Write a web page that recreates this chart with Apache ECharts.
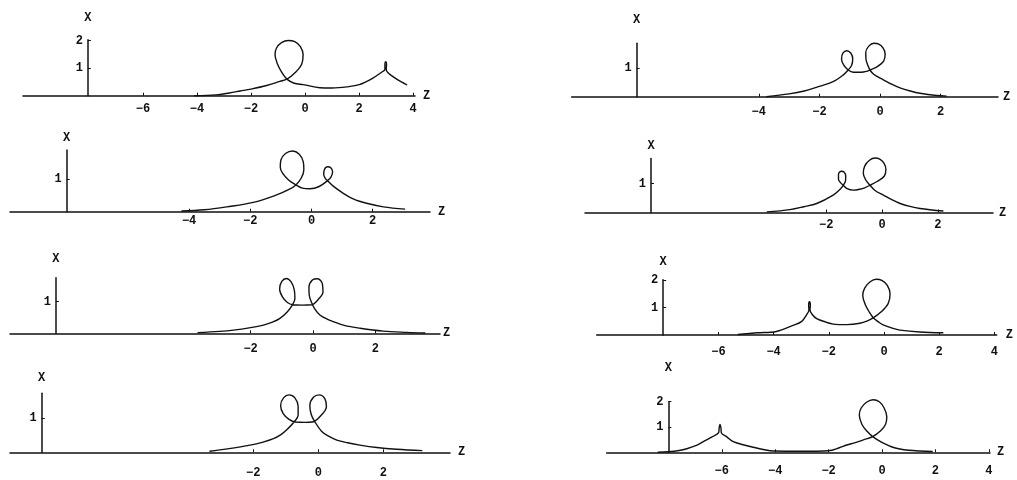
<!DOCTYPE html>
<html>
<head>
<meta charset="utf-8">
<script src="https://cdn.jsdelivr.net/npm/echarts@6/dist/echarts.min.js"></script>
<style>
  html, body { margin: 0; padding: 0; background: #fff; }
  #chart { width: 1017px; height: 480px; }
</style>
</head>
<body>
<div id="chart"></div>
<script>
// tick labels of each panel
const zTicksWide = [-6, -4, -2, 0, 2, 4];
const zTicksMid = [-4, -2, 0, 2];
const zTicksNarrow = [-2, 0, 2];
const xTicksOne = [1];
const xTicksTwo = [1, 2];

// curves, [z, x]
const curve1 = [[-4.1, 0.0], [-3.3, 0.03], [-2.8, 0.1], [-2.4, 0.17], [-2.0, 0.24], [-1.42, 0.37], [-0.93, 0.52], [-0.67, 0.6],
  [-0.35, 0.85], [-0.12, 1.15], [-0.07, 1.48], [-0.17, 1.78], [-0.38, 1.96], [-0.62, 2.0], [-0.87, 1.92],
  [-1.06, 1.72], [-1.11, 1.48], [-1.02, 1.15], [-0.85, 0.83], [-0.67, 0.6], [-0.4, 0.45], [-0.06, 0.4],
  [0.55, 0.29], [1.0, 0.28], [1.55, 0.32], [2.01, 0.4], [2.5, 0.63], [2.85, 0.86], [2.96, 0.95], [2.96, 1.15],
  [2.99, 1.23], [3.02, 1.15], [3.01, 0.95], [3.27, 0.68], [3.78, 0.39]];

const curve2 = [[-3.75, 0.0], [-3.0, 0.1], [-2.5, 0.2], [-2.1, 0.33], [-1.55, 0.53], [-1.22, 0.76], [-1.05, 0.94],
  [-0.94, 1.1], [-0.9, 1.33], [-0.96, 1.53], [-1.1, 1.62], [-1.22, 1.54], [-1.27, 1.33], [-1.2, 1.12], [-1.05, 0.94],
  [-0.88, 0.86], [-0.62, 0.86], [-0.45, 0.89], [-0.33, 0.94], [-0.1, 1.05], [0.12, 1.25], [0.17, 1.5], [0.1, 1.72],
  [-0.04, 1.85], [-0.2, 1.88], [-0.37, 1.78], [-0.47, 1.56], [-0.46, 1.3], [-0.4, 1.1], [-0.33, 0.94], [-0.2, 0.78],
  [0.1, 0.6], [0.4, 0.43], [0.66, 0.31], [1.0, 0.2], [1.32, 0.12], [1.87, 0.04], [2.2, 0.02]];

const curve3 = [[-4.25, 0.02], [-3.5, 0.06], [-2.77, 0.15], [-1.9, 0.29], [-1.14, 0.52], [-0.75, 0.68], [-0.51, 0.83],
  [-0.33, 1.05], [-0.25, 1.3], [-0.27, 1.55], [-0.4, 1.78], [-0.62, 1.88], [-0.85, 1.8], [-1.0, 1.6], [-1.02, 1.38],
  [-0.95, 1.2], [-0.75, 0.98], [-0.51, 0.83], [-0.3, 0.73], [-0.05, 0.71], [0.25, 0.78], [0.52, 0.96], [0.64, 1.08],
  [0.69, 1.24], [0.63, 1.36], [0.53, 1.39], [0.42, 1.3], [0.4, 1.15], [0.45, 1.03], [0.52, 0.96], [0.7, 0.8],
  [1.04, 0.57], [1.4, 0.38], [1.8, 0.26], [2.35, 0.15], [3.06, 0.08]];

const curve4 = [[-4.13, 0.02], [-3.3, 0.1], [-2.8, 0.2], [-2.34, 0.31], [-1.75, 0.6], [-1.5, 0.8], [-1.39, 0.94],
  [-1.31, 1.08], [-1.3, 1.25], [-1.36, 1.4], [-1.46, 1.42], [-1.56, 1.32], [-1.56, 1.15], [-1.48, 1.02], [-1.39, 0.94],
  [-1.25, 0.82], [-1.03, 0.77], [-0.8, 0.8], [-0.6, 0.86], [-0.43, 0.94], [-0.18, 1.07], [0.08, 1.25], [0.14, 1.48],
  [0.07, 1.7], [-0.08, 1.84], [-0.25, 1.88], [-0.45, 1.8], [-0.62, 1.6], [-0.67, 1.35], [-0.58, 1.12], [-0.43, 0.94],
  [-0.25, 0.76], [0.05, 0.6], [0.35, 0.44], [0.65, 0.31], [1.0, 0.21], [1.36, 0.14], [2.2, 0.05]];

const curve5 = [[-3.7, 0.02], [-3.0, 0.06], [-2.55, 0.1], [-2.0, 0.18], [-1.59, 0.26], [-1.3, 0.35], [-1.06, 0.47],
  [-0.82, 0.68], [-0.65, 0.91], [-0.58, 1.1], [-0.6, 1.37], [-0.7, 1.62], [-0.85, 1.73], [-1.0, 1.64], [-1.07, 1.4],
  [-0.98, 1.15], [-0.82, 0.97], [-0.65, 0.9], [-0.35, 0.89], [-0.04, 0.9], [0.16, 1.06], [0.32, 1.3], [0.3, 1.56],
  [0.15, 1.72], [-0.02, 1.68], [-0.13, 1.45], [-0.12, 1.2], [-0.06, 1.0], [0.05, 0.78], [0.22, 0.58], [0.45, 0.45],
  [0.65, 0.37], [1.0, 0.25], [1.51, 0.16], [2.25, 0.07], [3.0, 0.03], [3.6, 0.01]];

const curve6 = [[-5.3, 0.02], [-4.6, 0.08], [-3.9, 0.13], [-3.3, 0.35], [-2.98, 0.5], [-2.8, 0.75], [-2.72, 0.92],
  [-2.73, 1.1], [-2.7, 1.22], [-2.67, 1.1], [-2.68, 0.92], [-2.6, 0.75], [-2.44, 0.6], [-2.1, 0.47], [-1.84, 0.4],
  [-1.35, 0.38], [-0.87, 0.43], [-0.6, 0.52], [-0.39, 0.63], [-0.1, 0.85], [0.15, 1.15], [0.22, 1.5], [0.12, 1.82],
  [-0.08, 2.0], [-0.28, 2.04], [-0.5, 1.95], [-0.7, 1.72], [-0.77, 1.45], [-0.68, 1.12], [-0.52, 0.82], [-0.39, 0.63],
  [-0.2, 0.48], [-0.03, 0.37], [0.3, 0.25], [0.58, 0.18], [1.3, 0.11], [2.15, 0.08]];

const curve7 = [[-3.35, 0.03], [-2.8, 0.1], [-2.1, 0.21], [-1.7, 0.3], [-1.38, 0.4], [-1.15, 0.52], [-0.97, 0.66],
  [-0.72, 0.92], [-0.62, 1.1], [-0.62, 1.35], [-0.72, 1.6], [-0.9, 1.69], [-1.07, 1.6], [-1.16, 1.38], [-1.08, 1.14],
  [-0.9, 0.97], [-0.7, 0.89], [-0.42, 0.88], [-0.15, 0.9], [0.08, 1.08], [0.25, 1.34], [0.2, 1.58], [0.03, 1.69],
  [-0.15, 1.62], [-0.26, 1.38], [-0.22, 1.12], [-0.12, 0.92], [0.1, 0.62], [0.3, 0.48], [0.57, 0.36], [0.9, 0.28],
  [1.28, 0.21], [1.8, 0.14], [2.41, 0.09], [3.2, 0.05]];

const curve8 = [[-8.4, 0.0], [-8.0, 0.02], [-7.6, 0.07], [-7.31, 0.14], [-6.95, 0.27], [-6.69, 0.42], [-6.35, 0.62],
  [-6.12, 0.78], [-6.1, 0.95], [-6.07, 1.1], [-6.03, 0.95], [-6.02, 0.78], [-5.8, 0.6], [-5.57, 0.42], [-5.2, 0.3],
  [-4.82, 0.2], [-4.4, 0.1], [-4.07, 0.05], [-3.0, 0.04], [-2.0, 0.06], [-1.6, 0.18], [-1.32, 0.29], [-1.0, 0.38],
  [-0.7, 0.49], [-0.35, 0.62], [-0.05, 0.85], [0.13, 1.1], [0.18, 1.4], [0.08, 1.75], [-0.1, 2.0], [-0.33, 2.08],
  [-0.58, 1.98], [-0.78, 1.75], [-0.85, 1.47], [-0.75, 1.1], [-0.55, 0.82], [-0.35, 0.62], [-0.15, 0.48], [0.05, 0.36],
  [0.35, 0.22], [0.67, 0.13], [1.0, 0.08], [1.42, 0.05], [1.9, 0.03]];

// panel layout in pixels: x0 = px of z=0, sx/sy = px per unit, base = px of axis line
const panels = [
  { curve: curve1, zt: zTicksWide, xt: xTicksTwo, x0: 305, sx: 27, base: 95.7, sy: 27.6, from: 23, to: 415, yAt: -8.04, top: 2.03, lm: 7, gX: 16, gZ: 8 },
  { curve: curve2, zt: zTicksMid, xt: xTicksOne, x0: 880, sx: 30.3, base: 96.7, sy: 28.4, from: 571.7, to: 998, yAt: -8.03, top: 1.88, lm: 9, gX: 17, gZ: 5 },
  { curve: curve3, zt: zTicksMid, xt: xTicksOne, x0: 311.5, sx: 30.6, base: 211.7, sy: 32.3, from: 10, to: 430, yAt: -8.0, top: 1.91, lm: 3, gX: 6, gZ: 8 },
  { curve: curve4, zt: zTicksNarrow, xt: xTicksOne, x0: 882, sx: 27.9, base: 212.5, sy: 29, from: 585, to: 993, yAt: -8.28, top: 1.86, lm: 6, gX: 7, gZ: 6 },
  { curve: curve5, zt: zTicksNarrow, xt: xTicksOne, x0: 313, sx: 31.2, base: 333.3, sy: 31.7, from: 10, to: 440, yAt: -8.24, top: 1.75, lm: 10, gX: 13, gZ: 3 },
  { curve: curve6, zt: zTicksWide, xt: xTicksTwo, x0: 884, sx: 27.6, base: 335, sy: 27.3, from: 596.7, to: 996.7, yAt: -8.0, top: 2.02, lm: 11, gX: 12, gZ: 9 },
  { curve: curve7, zt: zTicksNarrow, xt: xTicksOne, x0: 318.3, sx: 32.5, base: 452.3, sy: 34, from: 10, to: 450, yAt: -8.51, top: 1.74, lm: 15, gX: 9, gZ: 8 },
  { curve: curve8, zt: zTicksWide, xt: xTicksTwo, x0: 882, sx: 26.7, base: 452.3, sy: 25.3, from: 606.7, to: 990, yAt: -8.0, top: 2.0, lm: 13, gX: 28, gZ: 7 }
];

const ink = '#111';
const font = { fontFamily: 'Liberation Mono', fontWeight: 'bold', fontSize: 12, color: ink };
const fmt = v => String(v).replace('-', '\u2212');

const grid = [], xAxis = [], yAxis = [], series = [];
panels.forEach((p, i) => {
  const h = p.top * p.sy;
  grid.push({ left: p.from, width: p.to - p.from, top: p.base - h, height: h, outerBoundsMode: 'none', containLabel: false });
  xAxis.push({
    type: 'value', gridIndex: i,
    min: (p.from - p.x0) / p.sx, max: (p.to - p.x0) / p.sx,
    name: 'Z', nameLocation: 'end', nameGap: p.gZ, nameMoveOverlap: false,
    nameTextStyle: font,
    axisLine: { onZero: false, lineStyle: { color: ink, width: 1.5 } },
    axisTick: { inside: true, length: 3, customValues: p.zt, lineStyle: { color: ink } },
    axisLabel: Object.assign({ customValues: p.zt, margin: p.lm, formatter: fmt, hideOverlap: false }, font),
    splitLine: { show: false }
  });
  yAxis.push({
    type: 'value', gridIndex: i, min: 0, max: p.top,
    offset: -((p.x0 + p.yAt * p.sx) - p.from),
    name: 'X', nameLocation: 'end', nameGap: p.gX, nameMoveOverlap: false,
    nameTextStyle: Object.assign({ align: 'center' }, font),
    axisLine: { show: true, onZero: false, lineStyle: { color: ink, width: 1.5 } },
    axisTick: { show: true, inside: true, length: 3, customValues: p.xt, lineStyle: { color: ink } },
    axisLabel: Object.assign({ customValues: p.xt, margin: 5 }, font),
    splitLine: { show: false }
  });
  series.push({
    type: 'line', xAxisIndex: i, yAxisIndex: i,
    data: p.curve, showSymbol: false, smooth: 0.35, clip: false,
    lineStyle: { color: ink, width: 1.4 }
  });
});

const chart = echarts.init(document.getElementById('chart'));
chart.setOption({
  backgroundColor: '#fff',
  animation: false,
  grid, xAxis, yAxis, series
});
</script>
</body>
</html>
